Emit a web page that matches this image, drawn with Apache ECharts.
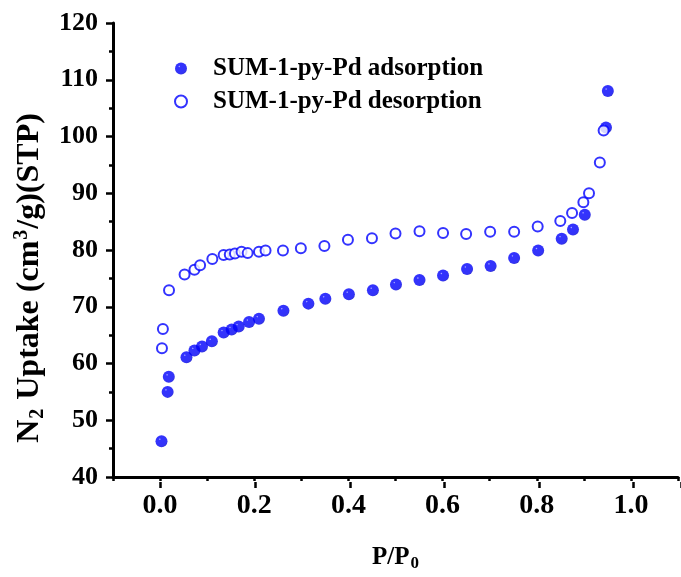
<!DOCTYPE html>
<html>
<head>
<meta charset="utf-8">
<script src="https://cdn.jsdelivr.net/npm/echarts@6/dist/echarts.min.js"></script>
<style>html,body{margin:0;padding:0;background:#fff}#chart{width:681px;height:577px}</style>
</head>
<body>
<div id="chart"></div>
<script>
// ---- data ----
var adsorptionName = 'SUM-1-py-Pd adsorption';
var desorptionName = 'SUM-1-py-Pd desorption';
var adsX = [0.003,0.016,0.0185,0.056,0.073,0.089,0.11,0.135,0.152,0.167,0.189,0.21,0.262,0.315,0.351,0.401,0.452,0.501,0.551,0.601,0.652,0.702,0.752,0.803,0.853,0.877,0.902,0.947,0.951];
var adsY = [46.3,55.0,57.65,61.1,62.3,63.0,63.9,65.45,66.0,66.5,67.3,67.9,69.3,70.55,71.4,72.2,72.9,73.9,74.7,75.5,76.65,77.2,78.6,79.9,82.0,83.6,86.2,101.6,108.0];
var desX = [0.004,0.006,0.019,0.052,0.073,0.085,0.111,0.135,0.148,0.159,0.173,0.186,0.21,0.224,0.261,0.299,0.349,0.399,0.45,0.5,0.551,0.601,0.65,0.701,0.752,0.802,0.85,0.875,0.899,0.911,0.934,0.942];
var desY = [62.7,66.1,72.9,75.7,76.5,77.3,78.4,79.1,79.2,79.4,79.7,79.45,79.7,79.9,79.9,80.3,80.7,81.8,82.05,82.9,83.3,83.0,82.8,83.2,83.2,84.15,85.1,86.5,88.4,90.0,95.4,101.05];
var xMin = -0.1, xMax = 1.1, xMinor = 0.1, xMajor = 0.2;
var yMin = 40, yMax = 120, yStep = 10;

function pairs(xs, ys){ return xs.map(function(x,i){ return [x, ys[i]]; }); }

var FONT = '"Liberation Serif","Times New Roman",serif';
var BLUE = '#0000ff';
var sphere = {type:'radial', x:0.36, y:0.33, r:0.7, colorStops:[
  {offset:0, color:'#a0a0ff'},{offset:0.14, color:'#0000ff'},{offset:0.85, color:'#0000f4'},{offset:1, color:'#0000cc'}]};

var chart = echarts.init(document.getElementById('chart'), null, {renderer:'canvas'});
chart.setOption({
  backgroundColor:'#ffffff',
  animation:false,
  grid:[
    {left:113, width:570, top:23, bottom:95},
    {left:160.5, width:522.5, top:23, bottom:95}
  ],
  legend:{
    orient:'vertical', left:169, top:51, itemWidth:12, itemHeight:12, itemGap:8,
    data:[adsorptionName, desorptionName],
    textStyle:{fontFamily:FONT, fontWeight:'bold', fontSize:25, color:'#000', lineHeight:25, padding:[0,0,0,21]}
  },
  xAxis:[
    {type:'value', gridIndex:0, min:xMin, max:xMax, interval:xMinor,
     name:'{b|P/P}{s|0}', nameLocation:'middle', nameGap:66,
     nameTextStyle:{rich:{
       b:{fontFamily:FONT, fontWeight:'bold', fontSize:25, color:'#000'},
       s:{fontFamily:FONT, fontWeight:'bold', fontSize:17, color:'#000', verticalAlign:'bottom', padding:[12,0,0,1]}}},
     axisLine:{show:true, onZero:false, lineStyle:{color:'#000', width:3}},
     axisTick:{show:true, inside:false, length:4, lineStyle:{color:'#000', width:2.5}},
     axisLabel:{margin:15, fontFamily:FONT, fontWeight:'bold', fontSize:28, color:'#000',
       formatter:function(v){ var k=Math.round(v*10); return (k>=0 && k%2===0) ? v.toFixed(1) : ''; }},
     splitLine:{show:false}},
    {type:'value', gridIndex:1, min:0, max:xMax, interval:xMajor, position:'bottom',
     axisLine:{show:false}, axisLabel:{show:false},
     axisTick:{show:true, inside:false, length:6, lineStyle:{color:'#000', width:2.5}},
     splitLine:{show:false}}
  ],
  yAxis:[
    {type:'value', gridIndex:0, min:yMin, max:yMax, interval:yStep,
     name:'{t|N}{sub|2}{t| Uptake (cm}{sup|3}{t|/g)(STP)}', nameLocation:'middle', nameGap:62,
     nameTextStyle:{padding:[0,56,0,0], rich:{
       t:{fontFamily:FONT, fontWeight:'bold', fontSize:32, color:'#000', lineHeight:36},
       sub:{fontFamily:FONT, fontWeight:'bold', fontSize:20, color:'#000', verticalAlign:'bottom', padding:[15,1,0,1]},
       sup:{fontFamily:FONT, fontWeight:'bold', fontSize:20, color:'#000', verticalAlign:'top', padding:[0,1,13,1]}}},
     axisLine:{show:true, onZero:false, lineStyle:{color:'#000', width:3}},
     axisTick:{show:true, inside:false, length:7, lineStyle:{color:'#000', width:2.5}},
     minorTick:{show:true, splitNumber:2, length:4, lineStyle:{color:'#000', width:2.5}},
     axisLabel:{margin:15, fontFamily:FONT, fontWeight:'bold', fontSize:26, color:'#000'},
     splitLine:{show:false}},
    {type:'value', gridIndex:1, min:yMin, max:yMax, show:false}
  ],
  series:[
    {name:adsorptionName, type:'scatter', xAxisIndex:0, yAxisIndex:0, symbol:'circle', symbolSize:12,
     itemStyle:{color:sphere}, data:pairs(adsX, adsY), z:2},
    {name:desorptionName, type:'scatter', xAxisIndex:0, yAxisIndex:0, symbol:'circle', symbolSize:10,
     itemStyle:{color:'#ffffff', borderColor:BLUE, borderWidth:2}, data:pairs(desX, desY), z:3}
  ]
});
</script>
</body>
</html>
